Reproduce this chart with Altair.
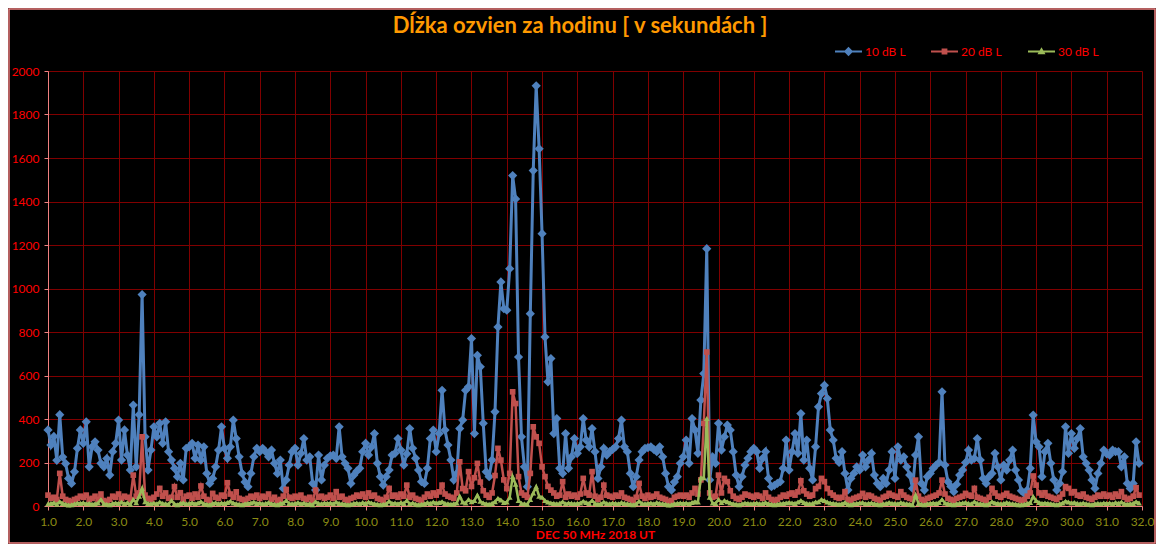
import altair as alt
import pandas as pd

TITLE = "Dĺžka ozvien za hodinu [ v sekundách ]"
X_TITLE = "DEC 50 MHz  2018  UT"
SERIES = ["10 dB L", "20 dB L", "30 dB L"]
COLORS = ["#4f81bd", "#c0504d", "#9bbb59"]
X_TICKS = list(range(1, 33))
Y_TICKS = list(range(0, 2001, 200))
STEP_HOURS = 2  # one value every 2 hours, 12 values per day

# 10 dB L  (days 1..31, 12 values per day)
BLUE = [
    350, 280, 320, 210, 420, 225, 195, 127, 104, 157, 265, 350,
    288, 387, 180, 272, 295, 257, 196, 180, 218, 142, 250, 288,
    395, 211, 350, 234, 165, 464, 180, 420, 972, 318, 165, 257,
    364, 318, 380, 288, 387, 250, 211, 173, 135, 196, 120, 265,
    272, 288, 219, 280, 211, 272, 150, 104, 127, 180, 257, 364,
    265, 219, 272, 395, 310, 226, 150, 110, 89, 150, 226, 265,
    250, 265, 250, 226, 257, 196, 150, 211, 81, 120, 188, 250,
    265, 188, 242, 310, 211, 226, 104, 73, 234, 120, 188, 219,
    230, 234, 219, 364, 226, 196, 173, 104, 142, 160, 173, 250,
    288, 234, 272, 333, 196, 135, 96, 135, 165, 234, 242, 310,
    257, 188, 240, 356, 265, 219, 165, 112, 104, 173, 310, 349,
    250, 333, 532, 349, 280, 211, 120, 150, 356, 395, 532, 548,
    770, 333, 693, 640, 380, 157, 135, 211, 433, 823, 1030, 907,
    900, 1091, 1519, 1412, 685, 318, 180, 89, 884, 1542, 1932, 1642,
    1252, 777, 571, 678, 333, 402, 173, 150, 333, 173, 226, 310,
    242, 272, 402, 303, 272, 356, 250, 127, 180, 265, 234, 250,
    260, 272, 310, 395, 272, 250, 150, 89, 135, 211, 250, 265,
    268, 272, 260, 250, 272, 226, 150, 89, 73, 110, 135, 196,
    226, 303, 196, 402, 349, 242, 487, 609, 1183, 120, 226, 196,
    380, 257, 318, 372, 349, 250, 142, 89, 135, 188, 219, 250,
    265, 250, 173, 219, 250, 127, 89, 95, 104, 112, 173, 303,
    165, 250, 333, 242, 425, 211, 303, 173, 120, 272, 456, 517,
    555, 494, 349, 303, 219, 200, 250, 150, 73, 127, 150, 180,
    165, 234, 180, 211, 242, 142, 104, 89, 127, 104, 165, 250,
    127, 272, 211, 226, 180, 142, 81, 234, 318, 104, 73, 135,
    150, 173, 188, 200, 525, 188, 112, 90, 66, 100, 142, 165,
    200, 257, 211, 219, 310, 211, 127, 104, 135, 150, 242, 180,
    120, 188, 165, 211, 257, 165, 120, 70, 58, 73, 173, 418,
    295, 272, 135, 250, 288, 196, 120, 73, 104, 157, 364, 242,
    333, 265, 310, 356, 226, 196, 165, 120, 81, 150, 196, 257,
    240, 234, 257, 250, 250, 180, 226, 104, 81, 104, 295, 196,
]

# 20 dB L
RED = [
    50, 35, 40, 30, 150, 45, 30, 25, 20, 30, 35, 45,
    40, 50, 30, 35, 45, 30, 55, 25, 20, 30, 45, 40,
    55, 35, 45, 40, 30, 142, 45, 60, 318, 50, 35, 30,
    40, 55, 81, 45, 60, 35, 40, 89, 40, 61, 30, 45,
    50, 35, 55, 40, 92, 45, 30, 25, 58, 40, 35, 50,
    45, 107, 55, 40, 65, 35, 30, 25, 35, 45, 40, 50,
    35, 45, 40, 55, 30, 40, 25, 30, 45, 76, 40, 35,
    45, 40, 50, 35, 30, 40, 25, 73, 40, 45, 35, 40,
    50, 35, 66, 40, 45, 30, 25, 35, 40, 50, 45, 55,
    40, 60, 45, 50, 35, 30, 25, 40, 81, 45, 50, 40,
    55, 45, 96, 40, 50, 35, 30, 25, 40, 55, 45, 60,
    50, 65, 96, 55, 45, 40, 35, 60, 203, 80, 70, 158,
    90, 130, 196, 110, 70, 50, 40, 60, 140, 265, 211, 120,
    80, 150, 525, 471, 135, 60, 50, 40, 150, 364, 318, 288,
    180, 135, 90, 73, 60, 45, 50, 112, 40, 55, 45, 50,
    40, 55, 127, 60, 50, 158, 45, 30, 40, 96, 50, 45,
    40, 50, 45, 60, 40, 35, 30, 25, 40, 104, 45, 35,
    50, 40, 45, 55, 40, 35, 30, 20, 25, 40, 45, 50,
    45, 50, 40, 60, 81, 55, 120, 380, 708, 60, 40, 45,
    142, 60, 127, 112, 70, 45, 35, 30, 40, 55, 50, 45,
    40, 50, 45, 35, 60, 40, 30, 25, 30, 40, 50, 45,
    55, 60, 50, 65, 116, 70, 55, 45, 50, 80, 90, 127,
    112, 80, 60, 50, 40, 35, 40, 66, 30, 25, 35, 40,
    45, 58, 40, 50, 45, 35, 30, 25, 40, 45, 58, 50,
    45, 40, 66, 50, 40, 35, 30, 119, 45, 30, 25, 35,
    40, 45, 50, 60, 119, 55, 35, 30, 25, 35, 40, 45,
    58, 50, 45, 81, 40, 35, 30, 25, 40, 81, 60, 45,
    40, 50, 58, 45, 40, 35, 30, 25, 30, 45, 60, 138,
    96, 60, 50, 61, 45, 40, 35, 30, 40, 55, 89, 81,
    60, 66, 50, 45, 55, 40, 35, 30, 40, 50, 45, 55,
    45, 50, 40, 55, 45, 66, 40, 30, 35, 45, 84, 50,
]

# 30 dB L
GREEN = [
    10, 12, 15, 8, 20, 12, 8, 5, 6, 10, 14, 12,
    15, 10, 12, 8, 10, 14, 30, 10, 8, 6, 12, 14,
    12, 18, 10, 15, 8, 30, 15, 45, 81, 20, 12, 10,
    14, 10, 18, 12, 10, 8, 25, 10, 6, 12, 15, 10,
    12, 15, 10, 14, 20, 10, 8, 6, 12, 15, 10, 14,
    12, 16, 22, 14, 10, 8, 6, 10, 12, 14, 18, 12,
    14, 10, 12, 16, 10, 8, 6, 12, 14, 25, 12, 10,
    12, 16, 10, 14, 8, 10, 6, 20, 12, 10, 14, 12,
    14, 10, 18, 12, 10, 8, 6, 8, 12, 14, 10, 16,
    12, 18, 14, 10, 8, 6, 8, 10, 22, 12, 14, 10,
    16, 12, 25, 10, 14, 8, 6, 8, 10, 16, 12, 18,
    14, 16, 20, 12, 10, 8, 10, 14, 45, 18, 14, 30,
    20, 25, 50, 22, 14, 10, 8, 12, 20, 35, 28, 16,
    18, 40, 135, 100, 25, 12, 10, 8, 30, 60, 89, 45,
    40, 25, 18, 14, 12, 10, 12, 20, 10, 14, 12, 10,
    12, 14, 22, 16, 12, 25, 12, 8, 10, 18, 12, 10,
    14, 12, 10, 16, 12, 10, 8, 6, 10, 22, 12, 10,
    12, 14, 10, 16, 12, 10, 8, 5, 6, 10, 12, 14,
    12, 14, 10, 16, 20, 18, 130, 130, 402, 40, 14, 12,
    30, 16, 25, 20, 14, 10, 8, 6, 10, 14, 12, 10,
    12, 14, 10, 12, 16, 10, 8, 6, 8, 10, 12, 14,
    16, 14, 12, 18, 25, 16, 12, 10, 12, 18, 20, 30,
    25, 18, 14, 12, 10, 8, 10, 16, 8, 6, 10, 12,
    14, 16, 10, 12, 14, 10, 8, 6, 10, 12, 16, 12,
    12, 10, 16, 12, 10, 8, 6, 50, 12, 8, 6, 10,
    12, 14, 12, 16, 30, 14, 10, 8, 6, 10, 12, 14,
    16, 12, 10, 20, 12, 10, 8, 6, 10, 20, 14, 12,
    10, 12, 16, 12, 10, 8, 6, 6, 8, 12, 16, 43,
    25, 16, 12, 14, 12, 10, 8, 6, 10, 14, 22, 18,
    14, 16, 12, 10, 14, 10, 8, 6, 10, 12, 10, 14,
    12, 14, 10, 16, 12, 18, 10, 8, 10, 12, 20, 14,
]

FONT = "Lato"
PINK = "#f08080"
GRID = "#800000"

W, H = 1094, 435
PAD = {"left": 40, "top": 63, "right": 14, "bottom": 38}


def frame(values, name):
    return pd.DataFrame({
        "day": [1 + i * STEP_HOURS / 24 for i in range(len(values))],
        "value": values,
        "series": [name] * len(values),
    })


x_enc = alt.X(
    "day:Q",
    scale=alt.Scale(domain=[1, 32], nice=False, zero=False),
    axis=alt.Axis(
        values=X_TICKS, format=".1f", labelColor="#8c8c14", labelFont=FONT,
        labelFontSize=12, labelPadding=6, labelFlush=False, labelOverlap=False,
        tickColor=PINK, tickSize=4, domainColor=PINK, gridColor=GRID, gridWidth=1,
        title=X_TITLE, titleColor="#ff0000", titleFont=FONT, titleFontSize=12,
        titleFontWeight="bold", titlePadding=2,
    ),
)
y_enc = alt.Y(
    "value:Q",
    scale=alt.Scale(domain=[0, 2000], nice=False),
    axis=alt.Axis(
        values=Y_TICKS, format="d", labelColor="#ff0000", labelFont=FONT,
        labelFontSize=12, labelPadding=5, tickColor=PINK, tickSize=4,
        domainColor=PINK, gridColor=GRID, gridWidth=1, title=None,
    ),
)

SYMBOLS = [
    "M-1,0H1M0,-0.24L0.24,0L0,0.24L-0.24,0Z",
    "M-1,0H1M-0.14,-0.14H0.14V0.14H-0.14Z",
    "M-1,0H1M0,-0.17L0.17,0.13H-0.17Z",
]
SHAPES = ["diamond", "square", "triangle-up"]
SIZES = [85, 32, 34]
WIDTHS = [3, 2.5, 2.5]
LEGEND_X = [786, 882, 979]


def series_layer(values, k):
    name, color = SERIES[k], COLORS[k]
    return alt.Chart(frame(values, name)).mark_line(
        strokeWidth=WIDTHS[k],
        point=alt.OverlayMarkDef(shape=SHAPES[k], size=SIZES[k], filled=True, opacity=1),
    ).encode(
        x=x_enc,
        y=y_enc,
        color=alt.Color(
            "series:N",
            scale=alt.Scale(domain=[name], range=[color]),
            legend=alt.Legend(
                title=None, orient="none", legendX=LEGEND_X[k], legendY=-34,
                symbolType=SYMBOLS[k], symbolSize=729, symbolStrokeWidth=2,
                symbolFillColor=color, symbolStrokeColor=color, symbolOffset=0,
                labelColor="#ff0000", labelFont=FONT, labelFontSize=12,
                labelOffset=2, padding=0,
            ),
        ),
    )


border = alt.Chart(pd.DataFrame({"k": [0]})).mark_rect(
    fillOpacity=0, stroke=PINK, strokeWidth=1.5
).encode(
    x=alt.value(-39), x2=alt.value(W + PAD["right"] - 1),
    y=alt.value(-62), y2=alt.value(H + PAD["bottom"] - 1),
)

chart = alt.layer(
    series_layer(BLUE, 0),
    series_layer(RED, 1),
    series_layer(GREEN, 2),
    border,
).resolve_scale(color="independent").properties(
    width=W,
    height=H,
    padding=PAD,
    autosize=alt.AutoSizeParams(type="none"),
    background="#000000",
    title=alt.TitleParams(
        TITLE, color="#ff9900", font=FONT, fontSize=22, fontWeight="bold",
        anchor="middle", frame="group", offset=0, baseline="bottom",
        dx=-15, dy=52,
    ),
).configure_view(stroke=None)

chart.save("out.html", embed_options={"renderer": "svg", "actions": False})
